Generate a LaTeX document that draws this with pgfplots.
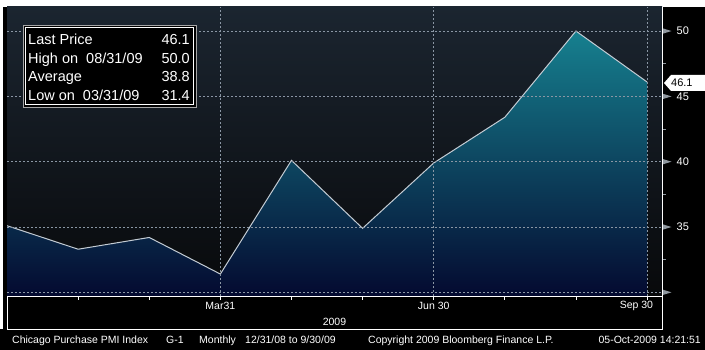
\documentclass[border=0pt]{standalone}
\usepackage{pgfplots}
\pgfplotsset{compat=1.18}
\usepackage{fontspec}
\setmainfont{Liberation Sans}
\definecolor{bgtop}{HTML}{1B2530}
\definecolor{bgmid}{HTML}{0D0F13}
\definecolor{bgbot}{HTML}{08090B}
\definecolor{filltop}{HTML}{16808F}
\definecolor{fillmid}{HTML}{0A3A62}
\definecolor{fillbot}{HTML}{040A30}
\definecolor{linec}{HTML}{C4CCD4}
\definecolor{gridc}{HTML}{8A96A4}
\definecolor{tickc}{HTML}{9098A0}
\begin{document}
\begin{tikzpicture}[x=1pt,y=1pt]
\path[use as bounding box, fill=black] (0,0) rectangle (705,350);
\fill[white] (0,343) rectangle (705,350);
\fill[white] (0,21) rectangle (3,350);
% right panel
\fill[black] (662,54) rectangle (705,343);
\begin{axis}[
  at={(7pt,54pt)}, anchor=south west,
  width=655pt, height=289pt, scale only axis,
  xmin=0, xmax=9.21, ymin=29.72, ymax=51.84,
  axis background/.style={top color=bgtop, middle color=bgmid, bottom color=bgbot},
  axis x line*=bottom, axis y line*=right,
  axis line style={white, line width=0.9pt},
  axis on top,
  xtick={3,6,9}, xticklabels={Mar31,Jun 30,\llap{Sep 30}\hspace*{-12pt}},
  minor xtick={1,2,4,5,7,8},
  tick align=outside,
  major x tick style={white, line width=0.7pt},
  minor x tick style={white, line width=0.7pt},
  major tick length=4pt, minor tick length=4pt,
  xmajorgrids=true, ymajorgrids=true,
  major grid style={gridc, dash pattern=on 2pt off 2pt, line width=0.6pt},
  xticklabel style={font=\fontsize{10.5}{12}\selectfont, text=white, inner sep=0pt, anchor=center, yshift=-6pt},
  xlabel={2009},
  xlabel style={font=\fontsize{10.5}{12}\selectfont, text=white, at={(axis description cs:0.5,0)}, anchor=center, yshift=-26pt},
  ytick={30,35,40,45,50},
  yticklabels={{}, 35, 40, 45, 50},
  minor ytick={32.5,37.5,42.5,47.5},
  major y tick style={draw=none},
  minor y tick style={tickc, line width=0.6pt},
  yticklabel pos=right,
  yticklabel style={font=\fontsize{11}{12}\selectfont, text=white, inner sep=0pt, anchor=west, xshift=10.5pt},
]
\addplot[draw=none, top color=filltop, middle color=fillmid, bottom color=fillbot]
  coordinates {(0,29.72) (0,35.1) (1,33.3) (2,34.2) (3,31.4) (4,40.1) (5,34.9) (6,39.9) (7,43.4) (8,50.0) (9,46.1) (9,29.72)} -- cycle;
\addplot[linec, line width=1pt]
  coordinates {(0,35.1) (1,33.3) (2,34.2) (3,31.4) (4,40.1) (5,34.9) (6,39.9) (7,43.4) (8,50.0) (9,46.1)};
\end{axis}
% bottom panel border and right panel line
\draw[white, line width=0.9pt] (7,54) -- (7,21) -- (662,21) -- (662,343);
% right-axis arrow ticks
\foreach \yy in {57.66,122.98,188.3,253.6,318.96}{
  \fill[tickc] (663,\yy+2.6) -- (671.5,\yy) -- (663,\yy-2.6) -- cycle;
}
% 46.1 tag
\fill[white] (664,267) -- (671,275) -- (705,275) -- (705,259) -- (671,259) -- cycle;
\node[anchor=west, inner sep=0pt, font=\fontsize{11}{12}\selectfont, text=black] at (671,267) {46.1};
% legend box
\fill[black] (23,243) rectangle (196,325);
\draw[gray!70, line width=0.9pt] (23,243) rectangle (196,325);
\draw[white, line width=0.9pt] (25.5,245.5) rectangle (193.5,322.5);
\begin{scope}[every node/.style={inner sep=0pt, text=white, font=\fontsize{14.5}{16}\selectfont}]
\node[anchor=base west] at (28,305) {Last Price};
\node[anchor=base west] at (28,286.5) {High on\ \ 08/31/09};
\node[anchor=base west] at (28,268) {Average};
\node[anchor=base west] at (28,249.5) {Low on\ \ 03/31/09};
\node[anchor=base east] at (190,305) {46.1};
\node[anchor=base east] at (190,286.5) {50.0};
\node[anchor=base east] at (190,268) {38.8};
\node[anchor=base east] at (190,249.5) {31.4};
\end{scope}
% footer
\begin{scope}[every node/.style={inner sep=0pt, text=white, font=\fontsize{10.5}{12}\selectfont, anchor=base west}]
\node at (12,6) {Chicago Purchase PMI Index};
\node at (166,6) {G-1};
\node at (199,6) {Monthly};
\node at (245,6) {12/31/08 to 9/30/09};
\node at (368,6) {Copyright 2009 Bloomberg Finance L.P.};
\node[anchor=base east] at (701,6) {05-Oct-2009 14:21:51};
\end{scope}
\end{tikzpicture}
\end{document}
